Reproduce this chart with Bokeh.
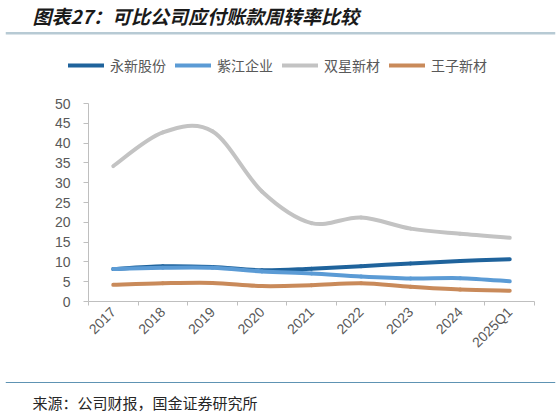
import math
from bokeh.plotting import figure
from bokeh.layouts import column, row
from bokeh.models import Range1d, FixedTicker, Label, Span, Legend, LegendItem
from bokeh.embed import file_html
from bokeh.resources import INLINE

# ---------------- data ----------------
categories = ["2017", "2018", "2019", "2020", "2021", "2022", "2023", "2024", "2025Q1"]
yongxin = [8.2, 8.9, 8.7, 7.9, 8.3, 8.9, 9.6, 10.2, 10.7]
zijiang = [8.2, 8.5, 8.5, 7.6, 7.1, 6.3, 5.8, 5.9, 5.1]
shuangxing = [34.2, 42.7, 43.0, 27.8, 19.8, 21.2, 18.4, 17.1, 16.1]
wangzi = [4.2, 4.6, 4.7, 3.9, 4.1, 4.6, 3.7, 3.0, 2.7]
series_names = ["永新股份", "紫江企业", "双星新材", "王子新材"]
y_ticks = [0, 5, 10, 15, 20, 25, 30, 35, 40, 45, 50]
title_text = "图表27：可比公司应付账款周转率比较"
source_text = "来源：公司财报，国金证券研究所"

colors = ["#1F639C", "#5B9BD5", "#C3C3C3", "#C98A5A"]
W = 560
CJK = "Noto Sans CJK SC"
series = [yongxin, zijiang, shuangxing, wangzi]
centers = [i + 0.5 for i in range(len(categories))]


def blank_fig(h, y0, y1):
    f = figure(width=W, height=h, output_backend="svg", toolbar_location=None,
               x_range=Range1d(5, 555), y_range=Range1d(y0, y1),
               x_axis_location=None, y_axis_location=None,
               min_border_left=5, min_border_right=5, min_border_top=0, min_border_bottom=0)
    f.outline_line_color = None
    f.xgrid.visible = False
    f.ygrid.visible = False
    f.border_fill_color = "white"
    return f


# ---------------- header: title, rule, legend ----------------
HH = 85
head = blank_fig(HH, HH, 0)
head.add_layout(Label(x=32, y=15, text=title_text, text_font=CJK,
                      text_font_size="19px", text_font_style="bold italic",
                      text_color="#1A1A1A", text_baseline="middle", text_align="left"))
head.add_layout(Span(location=32.7, dimension="width", line_color="#B7CAD4", line_width=2.5))

items = []
for name, vals, col in zip(series_names, series, colors):
    r = head.line(x=centers, y=vals, line_color=col, line_width=4, line_cap="round")
    r.visible = False  # only used to draw the legend key
    items.append(LegendItem(label=name, renderers=[r]))
legend = Legend(items=items, orientation="horizontal", location=(63, 10),
                glyph_width=36, glyph_height=16, label_height=16, label_standoff=6,
                spacing=9, padding=0, margin=0, border_line_color=None,
                background_fill_alpha=0,
                label_text_font=CJK, label_text_font_size="14px",
                label_text_color="#595959")
head.add_layout(legend, "center")

# ---------------- main chart ----------------
MH = 287
p = figure(width=W, height=MH, output_backend="svg", toolbar_location=None,
           x_range=Range1d(0, len(categories)), y_range=Range1d(0, 50),
           min_border_left=88, min_border_right=26, min_border_top=18, min_border_bottom=71)
p.outline_line_color = None
p.xgrid.visible = False
p.ygrid.visible = False
p.border_fill_color = "white"


def bez(xs, ys):
    """Excel-style smoothed line: bezier control points derived from neighbours."""
    n = len(xs)
    out = {k: [] for k in ("x0", "y0", "x1", "y1", "cx0", "cy0", "cx1", "cy1")}
    for i in range(n - 1):
        a = i - 1 if i > 0 else i
        b = i + 2 if i + 2 < n else i + 1
        out["x0"].append(xs[i]); out["y0"].append(ys[i])
        out["x1"].append(xs[i + 1]); out["y1"].append(ys[i + 1])
        out["cx0"].append(xs[i] + (xs[i + 1] - xs[a]) / 6.0)
        out["cy0"].append(ys[i] + (ys[i + 1] - ys[a]) / 6.0)
        out["cx1"].append(xs[i + 1] - (xs[b] - xs[i]) / 6.0)
        out["cy1"].append(ys[i + 1] - (ys[b] - ys[i]) / 6.0)
    return out


for vals, col in zip(series, colors):
    d = bez(centers, vals)
    p.bezier(line_color=col, line_width=4, line_cap="round", **d)

xa = p.xaxis[0]
xa.ticker = FixedTicker(ticks=centers, minor_ticks=list(range(len(categories) + 1)))
xa.major_label_overrides = {c: lab for c, lab in zip(centers, categories)}
xa.major_tick_line_color = None
xa.major_tick_out = 0
xa.major_tick_in = 0
xa.minor_tick_out = 4
xa.minor_tick_in = 0
xa.minor_tick_line_color = "#BFBFBF"
xa.axis_line_color = "#BFBFBF"
xa.major_label_orientation = math.pi / 4
xa.major_label_text_font = "Liberation Sans"
xa.major_label_text_font_size = "14px"
xa.major_label_text_color = "#595959"
xa.major_label_standoff = 4

ya = p.yaxis[0]
ya.ticker = FixedTicker(ticks=y_ticks)
ya.minor_tick_line_color = None
ya.major_tick_out = 5
ya.major_tick_in = 0
ya.major_tick_line_color = "#BFBFBF"
ya.axis_line_color = "#BFBFBF"
ya.major_label_text_font = "Liberation Sans"
ya.major_label_text_font_size = "14px"
ya.major_label_text_color = "#595959"
ya.major_label_standoff = 13

# ---------------- footer: rule and source ----------------
FH = 40
foot = blank_fig(FH, 372 + FH, 372)
foot.add_layout(Span(location=382, dimension="width", line_color="#5E93B3", line_width=1.2))
foot.add_layout(Label(x=32, y=401.5, text=source_text, text_font=CJK,
                      text_font_size="15px", text_color="#262626",
                      text_baseline="middle", text_align="left"))

layout = column(row(head), p, row(foot), spacing=0)
open("out.html", "w").write(file_html(layout, INLINE))
